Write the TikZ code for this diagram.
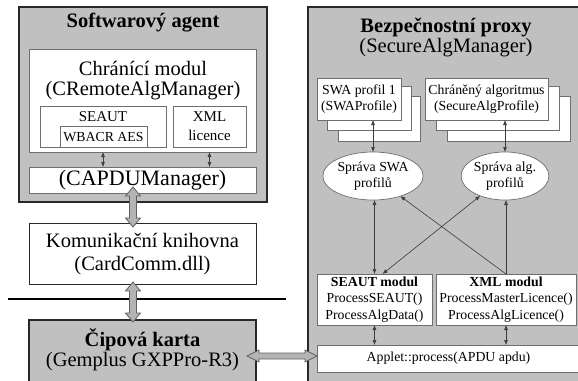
\documentclass[tikz,border=0pt]{standalone}
\usepackage{fontspec}
\setmainfont{Liberation Serif}
\usetikzlibrary{calc,arrows.meta,shapes.geometric}

\definecolor{panelgray}{RGB}{192,192,192}
\definecolor{edgedark}{RGB}{40,40,40}
\definecolor{boxedge}{RGB}{110,110,110}
\definecolor{linkgray}{RGB}{60,60,60}
\definecolor{arrowfill}{RGB}{180,180,180}
\definecolor{arrowedge}{RGB}{95,95,95}

\newcommand\fbig{\fontsize{20.5}{20}\selectfont}
\newcommand\fkom{\fontsize{20.5}{23}\selectfont}
\newcommand\fcap{\fontsize{22}{22}\selectfont}
\newcommand\fmid{\fontsize{15}{19}\selectfont}
\newcommand\fsmall{\fontsize{13.8}{15.5}\selectfont}
\newcommand\fmod{\fontsize{13.8}{16.5}\selectfont}

% hollow double block arrows between two points
\newcommand\vblock[2]{\path[blockarrow] let \p1=(#1), \p2=(#2) in
  (\x1,\y1) -- (\x1+7.5pt,\y1-9pt) -- (\x1+3.5pt,\y1-9pt) -- (\x1+3.5pt,\y2+9pt)
  -- (\x1+7.5pt,\y2+9pt) -- (\x1,\y2) -- (\x1-7.5pt,\y2+9pt) -- (\x1-3.5pt,\y2+9pt)
  -- (\x1-3.5pt,\y1-9pt) -- (\x1-7.5pt,\y1-9pt) -- cycle;}
\newcommand\hblock[2]{\path[blockarrow] let \p1=(#1), \p2=(#2) in
  (\x1,\y1) -- (\x1+12pt,\y1+6pt) -- (\x1+12pt,\y1+3pt) -- (\x2-12pt,\y1+3pt)
  -- (\x2-12pt,\y1+6pt) -- (\x2,\y1) -- (\x2-12pt,\y1-6pt) -- (\x2-12pt,\y1-3pt)
  -- (\x1+12pt,\y1-3pt) -- (\x1+12pt,\y1-6pt) -- cycle;}

\tikzset{
  sz/.style 2 args={minimum width=#1pt, minimum height=#2pt},
  panel/.style={draw=edgedark, fill=panelgray, line width=1.4pt, inner sep=0pt, outer sep=0pt, anchor=north west},
  wbox/.style={draw=boxedge, fill=white, line width=0.7pt, inner sep=0pt, outer sep=0pt, anchor=north west},
  tx/.style={inner sep=0pt, text=black},
  ell/.style={ellipse, draw=boxedge, fill=white, line width=0.7pt, inner sep=0pt, outer sep=0pt, align=center, font=\fsmall},
  link/.style={draw=linkgray, line width=0.6pt, -{Latex[length=5pt,width=4pt]}},
  linkboth/.style={draw=linkgray, line width=0.6pt, {Latex[length=5pt,width=4pt]}-{Latex[length=5pt,width=4pt]}},
  blockarrow/.style={draw=arrowedge, fill=arrowfill, line width=0.8pt, line join=miter}
}

\begin{document}
\begin{tikzpicture}[x=1pt,y=-1pt]
\useasboundingbox (0,0) rectangle (578,380);
\clip (0,0) rectangle (578,380);

% software agent side
\node[panel, sz={248}{195}] (agent) at (19,7) {};
\node[tx, font=\fbig\bfseries] (agentT) at (143,23) {Softwarový agent};
\node[wbox, sz={227}{103}] (chr) at (29,49) {};
\node[tx, font=\fbig, align=center] (chrT) at (143,81) {Chránící modul\\(CRemoteAlgManager)};
\node[wbox, sz={126}{41}] (seautL) at (40,106) {};
\node[tx, font=\fmid] (seautLT) at (103,117) {SEAUT};
\node[wbox, sz={87}{21}] (wbacr) at (60,126) {};
\node[tx, font=\fsmall] (wbacrT) at (103.5,137) {WBACR AES};
\node[wbox, sz={73}{41}] (xmlL) at (173,106) {};
\node[tx, font=\fmid, align=center] (xmlLT) at (209.5,126.5) {XML\\licence};
\node[wbox, sz={227}{26}] (capdu) at (29,167) {};
\node[tx, font=\fcap] (capduT) at (142.5,180) {(CAPDUManager)};

\draw[linkboth] (seautL.south |- chr.south) -- (seautL.south |- capdu.north);
\draw[linkboth] (xmlL.south |- chr.south) -- (xmlL.south |- capdu.north);

\node[wbox, draw=edgedark, line width=1pt, sz={227}{61}] (komun) at (29,223) {};
\node[tx, font=\fkom, align=center] (komunT) at (142.5,254) {Komunikační knihovna\\(CardComm.dll)};

\coordinate (sepL) at (8,299);
\coordinate (sepR) at (286,299);
\draw[line width=1.5pt, draw=black] (sepL) -- (sepR);

\node[panel, sz={227}{80}] (card) at (29,320) {};
\node[tx, font=\fbig, align=center] (cardT) at (142.5,350) {{\bfseries Čipová karta}\\(Gemplus GXPPro-R3)};

% security proxy side
\node[panel, sz={290}{390}] (proxy) at (308,7) {};
\node[tx, font=\fbig, align=center] (proxyT) at (446,37) {{\bfseries Bezpečnostní proxy}\\(SecureAlgManager)};

\node[wbox, sz={82}{45}] (swa3) at (338,96) {};
\node[wbox, sz={84}{44}] (swa2) at (327,86) {};
\node[wbox, sz={84}{42}] (swa) at (317,78) {};
\node[tx, font=\fsmall, align=center] (swaT) at (swa.center) {SWA profil 1\\(SWAProfile)};

\node[wbox, sz={123}{45}] (alg3) at (447,96) {};
\node[wbox, sz={123}{44}] (alg2) at (436,86) {};
\node[wbox, sz={123}{42}] (alg) at (425,78) {};
\node[tx, font=\fsmall, align=center] (algT) at (alg.center) {Chráněný algoritmus\\(SecureAlgProfile)};

\node[ell, minimum width=87pt, minimum height=48pt] (swaell) at (373,176) {Správa SWA\\profilů};
\node[ell, minimum width=87pt, minimum height=48pt] (algell) at (505,176) {Správa alg.\\profilů};

\node[wbox, sz={115}{51}] (seaut) at (317,274) {};
\node[tx, font=\fmod, align=center] (seautT) at (seaut.center) {\textbf{SEAUT modul}\\ProcessSEAUT()\\ProcessAlgData()};
\node[wbox, sz={140}{51}] (xml) at (436,274) {};
\node[tx, font=\fmod, align=center] (xmlT) at (xml.center) {\textbf{XML modul}\\ProcessMasterLicence()\\ProcessAlgLicence()};

\node[wbox, sz={263}{27}] (applet) at (317,345) {};
\node[tx, font=\fsmall] (appletT) at (applet.center) {Applet::process(APDU apdu)};

\draw[linkboth] (swa.south -| swaell.north) -- (swaell.north);
\draw[linkboth] (alg.south -| algell.north) -- (algell.north);
\draw[linkboth] (seaut.north) -- (seaut.north |- swaell.south);
\draw[linkboth] ($(seaut.north)+(8pt,0)$) -- (algell);
\draw[link] (xml.north) -- (swaell);
\draw[link] (xml.north) -- (xml.north |- algell.south);
\draw[linkboth] (seaut.south) -- (seaut.south |- applet.north);
\draw[linkboth] (xml.south) -- (xml.south |- applet.north);

% block arrows between the layers
\coordinate (b1a) at ($(capdu.south)+(-9.5pt,6pt)$);
\coordinate (b1b) at ($(komun.north)+(-9.5pt,-4pt)$);
\coordinate (b2a) at ($(komun.south)+(-9.5pt,2pt)$);
\coordinate (b2b) at ($(card.north)+(-9.5pt,-2pt)$);
\coordinate (b3a) at ($(card.north east)+(-9pt,-36pt)$);
\coordinate (b3b) at ($(applet.west)+(0,2.5pt)$);
\vblock{b1a}{b1b}
\vblock{b2a}{b2b}
\hblock{b3a}{b3b}
\end{tikzpicture}
\end{document}
